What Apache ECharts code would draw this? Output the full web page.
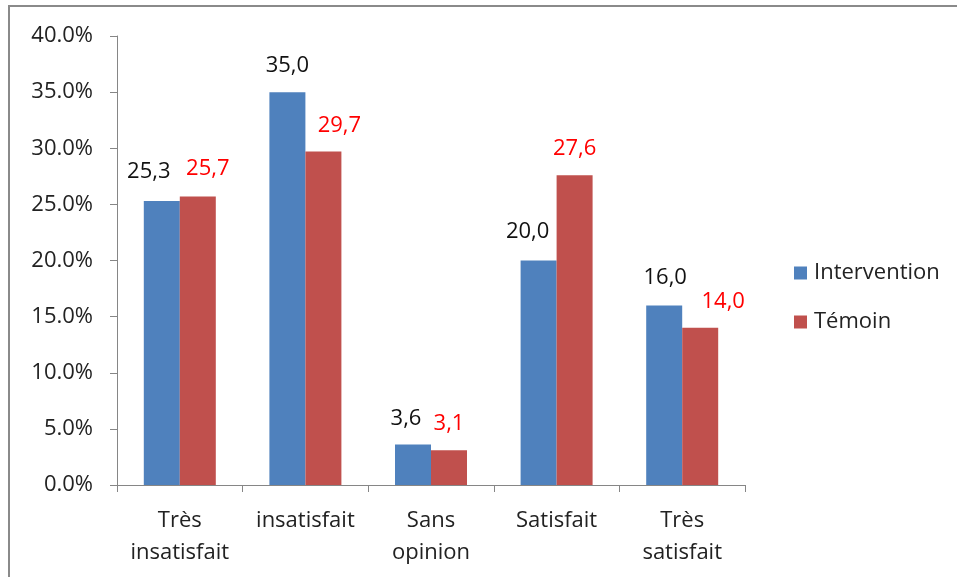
<!DOCTYPE html>
<html>
<head>
<meta charset="utf-8">
<script src="https://cdn.jsdelivr.net/npm/echarts@6/dist/echarts.min.js"></script>
<style>
  html, body { margin: 0; padding: 0; background: #fff; }
  #chart { width: 957px; height: 577px; }
</style>
</head>
<body>
<div id="chart"></div>
<script>
// Satisfaction levels (percent of respondents) by group
const categories = ['Très\ninsatisfait', 'insatisfait', 'Sans\nopinion', 'Satisfait', 'Très\nsatisfait'];
const interventionValues = [25.3, 35.0, 3.6, 20.0, 16.0];
const temoinValues = [25.7, 29.7, 3.1, 27.6, 14.0];
const seriesNames = ['Intervention', 'Témoin'];

// Hand-placed label nudges so neighbouring values don't collide
const interventionLabelShift = [[-13, -3], [0, 0], [-7, 0], [-11, -3], [1, -2]];
const temoinLabelShift = [[10, -2], [16, 0], [0, 0], [0, 0], [23, 0]];

const FONT = '"Open Sans", Lato, sans-serif';
const fmt = v => v.toFixed(1).replace('.', ',');

function barData(values, shifts) {
  return values.map((v, i) => ({
    value: v,
    label: { offset: shifts[i] }
  }));
}

const chart = echarts.init(document.getElementById('chart'), null, { renderer: 'canvas' });
chart.setOption({
  animation: false,
  backgroundColor: '#ffffff',
  graphic: [{
    type: 'rect',
    shape: { x: 9, y: 6, width: 1200, height: 1200 },
    style: { fill: 'none', stroke: '#8a8a8a', lineWidth: 2 },
    silent: true
  }],
  grid: { left: 117, right: 212, top: 36, bottom: 92 },
  legend: {
    orient: 'vertical',
    left: 789,
    top: 257,
    itemWidth: 13,
    itemHeight: 13,
    itemGap: 27,
    icon: 'rect',
    textStyle: { fontFamily: FONT, fontSize: 22, color: '#222', padding: [0, 0, 0, 2] },
    data: seriesNames
  },
  xAxis: {
    type: 'category',
    data: categories,
    axisLine: { lineStyle: { color: '#868686', width: 1 } },
    axisTick: { show: true, length: 7, lineStyle: { color: '#868686' } },
    axisLabel: {
      fontFamily: FONT, fontSize: 22, color: '#222',
      lineHeight: 32, margin: 20, interval: 0
    }
  },
  yAxis: {
    type: 'value',
    min: 0, max: 40, interval: 5,
    axisLine: { show: true, lineStyle: { color: '#868686', width: 1 } },
    axisTick: { show: true, length: 7, lineStyle: { color: '#868686' } },
    splitLine: { show: false },
    axisLabel: {
      fontFamily: FONT, fontSize: 22, color: '#222', margin: 24,
      formatter: v => v.toFixed(1) + '%'
    }
  },
  series: [
    {
      name: seriesNames[0],
      type: 'bar',
      barWidth: 36,
      barGap: '0%',
      itemStyle: { color: '#4F81BD' },
      label: {
        show: true, position: 'top', distance: 15,
        fontFamily: FONT, fontSize: 22, color: '#111',
        formatter: p => fmt(p.value)
      },
      data: barData(interventionValues, interventionLabelShift)
    },
    {
      name: seriesNames[1],
      type: 'bar',
      barWidth: 36,
      barGap: '0%',
      itemStyle: { color: '#C0504D' },
      label: {
        show: true, position: 'top', distance: 15,
        fontFamily: FONT, fontSize: 22, color: '#FF0000',
        formatter: p => fmt(p.value)
      },
      data: barData(temoinValues, temoinLabelShift)
    }
  ]
});
</script>
</body>
</html>
